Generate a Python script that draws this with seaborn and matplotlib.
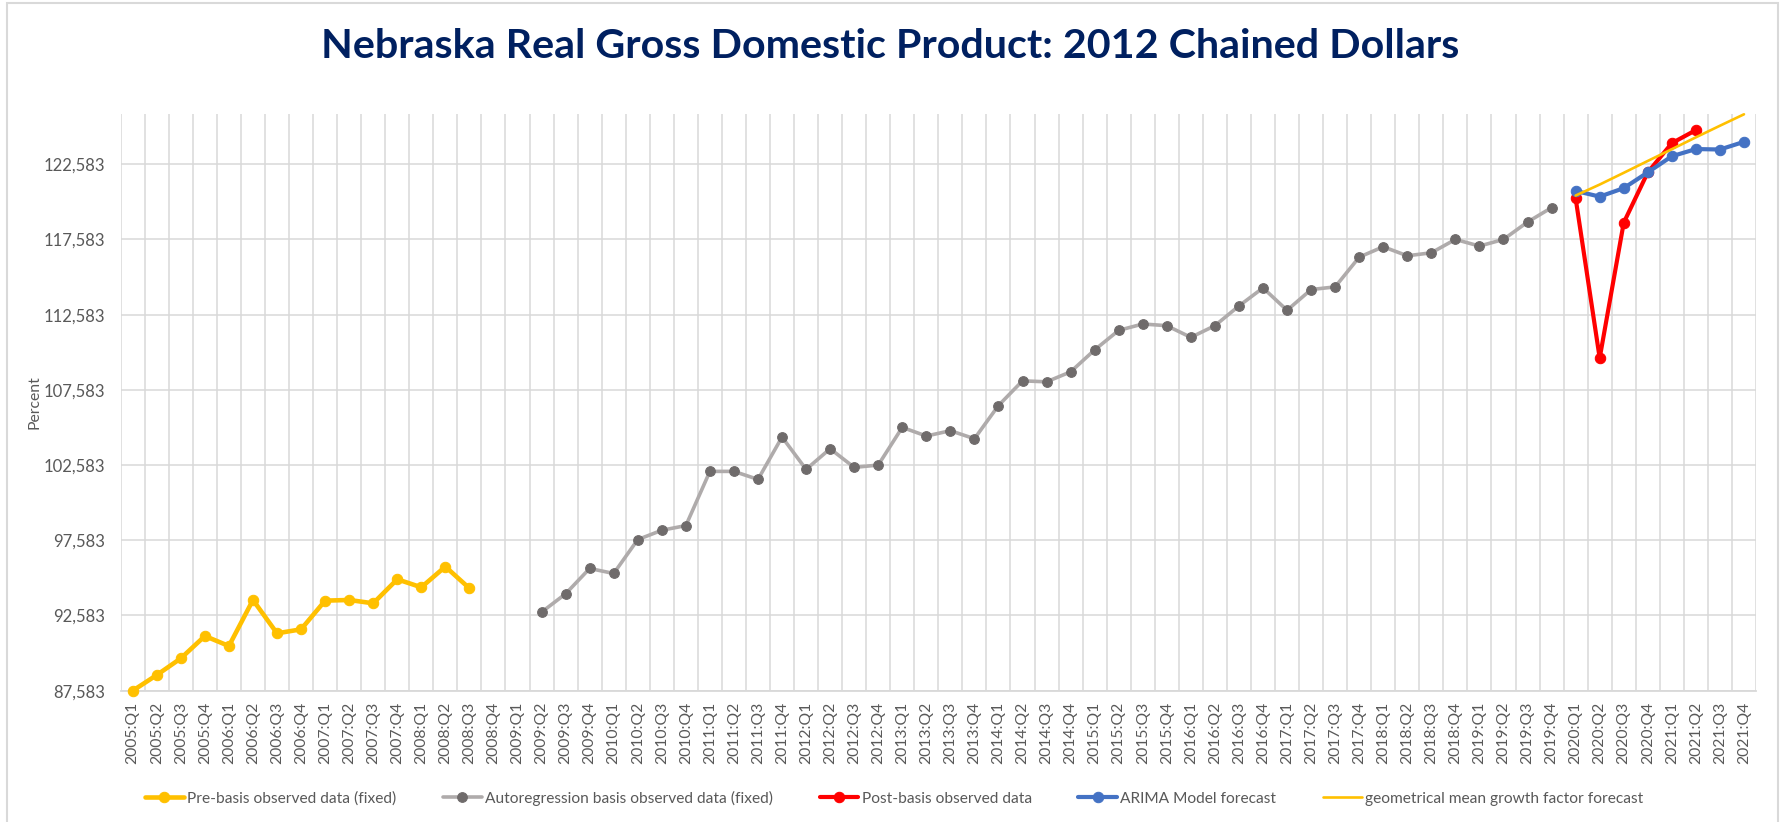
import matplotlib
matplotlib.use("Agg")
import matplotlib.pyplot as plt
from matplotlib.patches import Rectangle
from matplotlib.ticker import FixedLocator, FuncFormatter
import numpy as np
import pandas as pd
import seaborn as sns

# Quarter labels 2005:Q1 ... 2021:Q4
quarters = [f"{y}:Q{q}" for y in range(2005, 2022) for q in range(1, 5)]

# Pre-basis observed data (fixed), 2005:Q1 - 2008:Q3
pre_basis_start = "2005:Q1"
pre_basis = [87583, 88625, 89734, 91219, 90554, 93614, 91397, 91663,
             93570, 93614, 93392, 94989, 94457, 95832, 94390]

# Autoregression basis observed data (fixed), 2009:Q2 - 2019:Q4
ar_basis_start = "2009:Q2"
ar_basis = [92805, 94024, 95709,
            95376, 97627, 98248, 98558,
            102162, 102162, 101630, 104445,
            102295, 103669, 102428, 102583,
            105088, 104512, 104867, 104334,
            106541, 108182, 108116, 108780,
            110240, 111538, 111960, 111849,
            111072, 111849, 113161, 114361,
            112872, 114250, 114427, 116405,
            117094, 116494, 116694, 117583,
            117139, 117583, 118738, 119694]

# Post-basis observed data, 2020:Q1 - 2021:Q2
post_basis_start = "2020:Q1"
post_basis = [120317, 109694, 118695, 122040, 123980, 124850]

# ARIMA model forecast, 2020:Q1 - 2021:Q4
arima_start = "2020:Q1"
arima = [120805, 120428, 120990, 122040, 123110, 123590, 123560, 124070]

# Geometrical mean growth factor forecast, 2020:Q1 - 2021:Q4
geo_start = "2020:Q1"
geo = [120500, 121230, 122010, 122800, 123580, 124370, 125140, 125900]

y_ticks = [87583, 92583, 97583, 102583, 107583, 112583, 117583, 122583]
y_top = 125900

title = "Nebraska Real Gross Domestic Product: 2012 Chained Dollars"
y_title = "Percent"
legend_labels = ["Pre-basis observed data (fixed)",
                 "Autoregression basis observed data (fixed)",
                 "Post-basis observed data",
                 "ARIMA Model forecast",
                 "geometrical mean growth factor forecast"]

sns.set_style("white")
plt.rcParams["font.family"] = ["Lato", "DejaVu Sans"]

TEXT = "#595959"
GRID = "#D9D9D9"

W, H = 1780, 822
fig = plt.figure(figsize=(W / 100, H / 100), dpi=100)
ax = fig.add_axes([120.7 / W, 1 - 690.7 / H, (1756 - 120.7) / W, (690.7 - 114.3) / H])


def series_frame(start, values):
    i0 = quarters.index(start)
    return pd.DataFrame({"pos": np.arange(i0, i0 + len(values)), "value": values})


styles = [
    (pre_basis_start, pre_basis, dict(color="#FFC000", linewidth=3.3, marker="o", markersize=7.5,
                                      markerfacecolor="#FFC000", markeredgecolor="#FFC000")),
    (ar_basis_start, ar_basis, dict(color="#AFABAB", linewidth=2.6, marker="o", markersize=7,
                                    markerfacecolor="#6F6B6B", markeredgecolor="#6F6B6B")),
    (post_basis_start, post_basis, dict(color="#FF0000", linewidth=3.0, marker="o", markersize=7.5,
                                        markerfacecolor="#FF0000", markeredgecolor="#FF0000")),
    (arima_start, arima, dict(color="#4472C4", linewidth=3.0, marker="o", markersize=7.5,
                              markerfacecolor="#4472C4", markeredgecolor="#4472C4")),
    (geo_start, geo, dict(color="#FFC000", linewidth=1.9)),
]

for (start, vals, kw), lab in zip(styles, legend_labels):
    df = series_frame(start, vals)
    sns.lineplot(data=df, x="pos", y="value", ax=ax, label=lab, sort=False,
                 estimator=None, clip_on=False, zorder=3, **kw)

lines = ax.get_lines()
if ax.get_legend() is not None:
    ax.get_legend().remove()

ax.set_xlim(-0.5, len(quarters) - 0.5)
ax.set_ylim(y_ticks[0], y_top)

ax.set_xticks(range(len(quarters)))
ax.set_xticklabels(quarters, rotation=90, fontsize=11.3, color=TEXT)
ax.xaxis.set_minor_locator(FixedLocator(np.arange(-0.5, len(quarters), 1.0)))
ax.set_yticks(y_ticks)
ax.yaxis.set_major_formatter(FuncFormatter(lambda v, p: f"{v:,.0f}"))
for t in ax.get_yticklabels():
    t.set_color(TEXT)
    t.set_fontsize(12)

ax.tick_params(axis="x", which="both", length=0, pad=8)
ax.tick_params(axis="y", length=0, pad=11)
ax.grid(False)
ax.grid(True, axis="x", which="minor", color=GRID, linewidth=1.1)
ax.grid(True, axis="y", which="major", color=GRID, linewidth=1.1)
ax.set_axisbelow(True)
for side in ["top", "right", "left"]:
    ax.spines[side].set_visible(False)
ax.spines["bottom"].set_color(GRID)
ax.spines["bottom"].set_linewidth(1.3)
ax.set_xlabel("")
ax.set_ylabel("")

fig.text(35 / W, 1 - 402 / H, y_title, rotation=90, ha="center", va="center",
         fontsize=11.3, color=TEXT)

fig.text(0.5, 1 - 58.3 / H, title, ha="center", va="baseline",
         fontsize=29.7, fontweight="bold", color="#002060")

fig.legend(lines[:5], legend_labels, loc="center left",
           bbox_to_anchor=(145 / W, 1 - 798 / H), ncol=5, frameon=False,
           fontsize=11.2, labelcolor=TEXT, handlelength=2.5, handletextpad=0.2,
           columnspacing=3.0, borderpad=0, borderaxespad=0, numpoints=1)

# chart area border
fig.patches.append(Rectangle((7 / W, -0.05), (1778 - 7) / W, 1.05 - 3 / H,
                             transform=fig.transFigure, fill=False,
                             edgecolor="#D9D9D9", linewidth=1.5))

fig.savefig("out.png", dpi=100)
